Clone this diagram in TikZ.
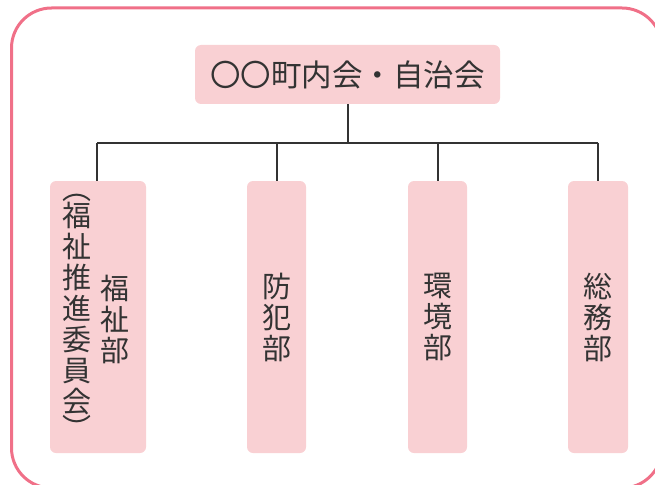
\documentclass[tikz,border=0pt]{standalone}
\usepackage{fontspec}
\usetikzlibrary{calc}
\newfontfamily\jp{Noto Sans CJK JP}
\definecolor{framecol}{HTML}{F07088}
\definecolor{boxfill}{HTML}{F9D0D3}
\definecolor{inkcol}{HTML}{333333}
\tikzset{
  orgbox/.style={fill=boxfill, draw=none, rounded corners=6pt, inner sep=0pt},
  vlabel/.style={text=inkcol, align=center, inner sep=0pt, font={\jp\fontsize{29}{31}\selectfont}},
  hlabel/.style={text=inkcol, inner sep=0pt, font={\jp\fontsize{30.5}{33}\selectfont}},
  link/.style={draw=inkcol, line width=2pt},
}
\begin{document}
\begin{tikzpicture}[x=1pt,y=-1pt]
\useasboundingbox (0,0) rectangle (655,484);
\begin{scope}
\clip (0,0) rectangle (655,484);
\draw[framecol, line width=3pt, rounded corners=40pt] (11.5,8) rectangle (662,488);
\end{scope}
% boxes
\node[orgbox, minimum width=305pt, minimum height=59pt] (top) at (347.5,74.5) {};
\node[hlabel] (toplbl) at (top.center) {〇〇町内会・自治会};
\node[orgbox, minimum width=96pt, minimum height=272pt] (c1) at (98,317) {};
\node[orgbox, minimum width=59pt, minimum height=272pt] (c2) at (276.5,317) {};
\node[orgbox, minimum width=59pt, minimum height=272pt] (c3) at (437.5,317) {};
\node[orgbox, minimum width=60pt, minimum height=272pt] (c4) at (598,317) {};
% labels
\node[vlabel] (c1main) at (115,319) {福\\祉\\部};
\node[vlabel] (c1sub) at (77,317) {︵\\[-4pt]福\\祉\\推\\進\\委\\員\\会\\[-4pt]︶};
\node[vlabel] (c2lbl) at (c2.center) {防\\犯\\部};
\node[vlabel] (c3lbl) at (c3.center) {環\\境\\部};
\node[vlabel] (c4lbl) at (c4.center) {総\\務\\部};
% connectors
\coordinate (hub) at ($(top.south)+(0,38.5)$);
\coordinate (c1top) at ($(c1.north)+(-1,0)$);
\draw[link] (top.south) -- (hub);
\draw[link] (c1top |- hub) -- (c4.north |- hub);
\draw[link] (c1top |- hub) -- (c1top);
\draw[link] (c2.north |- hub) -- (c2.north);
\draw[link] (c3.north |- hub) -- (c3.north);
\draw[link] (c4.north |- hub) -- (c4.north);
\end{tikzpicture}
\end{document}
